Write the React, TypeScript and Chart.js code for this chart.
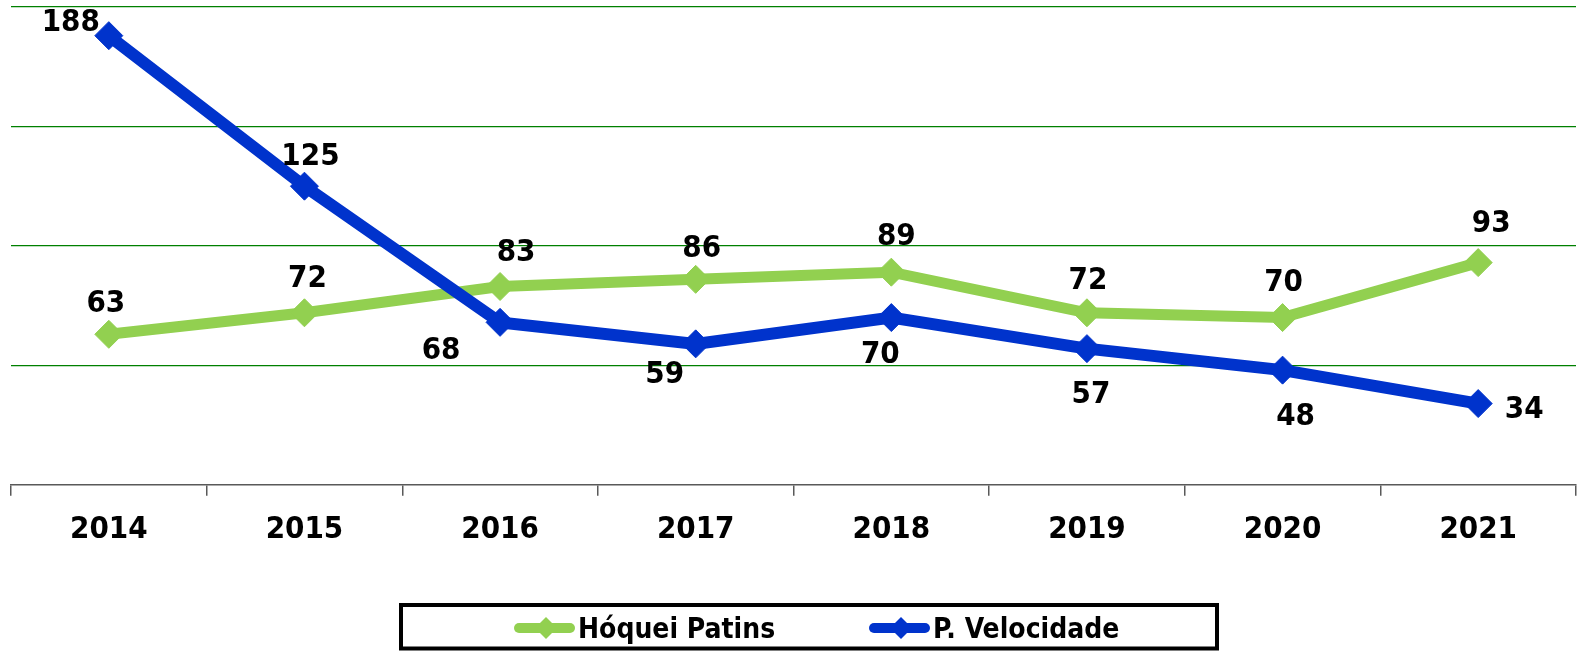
import React, { useEffect, useRef } from "react";
import { Chart, registerables } from "chart.js";

Chart.register(...registerables);

const categories = ["2014", "2015", "2016", "2017", "2018", "2019", "2020", "2021"];
const hoqueiPatins = [63, 72, 83, 86, 89, 72, 70, 93];
const pVelocidade = [188, 125, 68, 59, 70, 57, 48, 34];
const seriesNames = ["Hóquei Patins", "P. Velocidade"];
const yTicks = [0, 50, 100, 150, 200];

// label placement (style only): offset of label centre from its point
const greenLabelOffsets = [[-3, -33], [3, -37], [16, -37], [6, -33], [5, -38], [1, -35], [1, -38], [13, -42]];
const blueLabelOffsets = [[-38, -16], [6, -32], [-59, 26], [-31, 28], [-11, 34], [4, 43], [13, 44], [46, 3]];

const GREEN = "#92D050";
const BLUE = "#0033CC";
const FONT_FAMILY = "'Liberation Sans Narrow', 'DejaVu Sans Condensed', sans-serif";

const labelPlugin = {
  id: "pointLabels",
  afterDatasetsDraw(chart: any) {
    const ctx = chart.ctx;
    ctx.save();
    ctx.font = `bold 31px ${FONT_FAMILY}`;
    ctx.fillStyle = "#000";
    ctx.textAlign = "center";
    ctx.textBaseline = "alphabetic";
    chart.data.datasets.forEach((ds: any, di: number) => {
      const meta = chart.getDatasetMeta(di);
      const offs = di === 0 ? greenLabelOffsets : blueLabelOffsets;
      meta.data.forEach((pt: any, i: number) => {
        const [dx, dy] = offs[i];
        ctx.fillText(String(ds.data[i]), pt.x + dx, pt.y + dy + 11);
      });
    });
    ctx.restore();
  },
};

const legendPlugin = {
  id: "boxLegend",
  afterDraw(chart: any) {
    const ctx = chart.ctx;
    ctx.save();
    ctx.strokeStyle = "#000";
    ctx.lineWidth = 4;
    ctx.strokeRect(401, 605, 816, 43.5);
    const items = [
      { x: 514, color: GREEN, text: seriesNames[0] },
      { x: 869, color: BLUE, text: seriesNames[1] },
    ];
    const cy = 628;
    items.forEach((it) => {
      ctx.strokeStyle = it.color;
      ctx.lineWidth = 10;
      ctx.lineCap = "round";
      ctx.beginPath();
      ctx.moveTo(it.x + 5, cy);
      ctx.lineTo(it.x + 56, cy);
      ctx.stroke();
      ctx.fillStyle = it.color;
      const cx = it.x + 32;
      const r = 11;
      ctx.beginPath();
      ctx.moveTo(cx, cy - r);
      ctx.lineTo(cx + r, cy);
      ctx.lineTo(cx, cy + r);
      ctx.lineTo(cx - r, cy);
      ctx.closePath();
      ctx.fill();
      ctx.fillStyle = "#000";
      ctx.font = `bold 28px ${FONT_FAMILY}`;
      ctx.textAlign = "left";
      ctx.textBaseline = "alphabetic";
      ctx.fillText(it.text, it.x + 64, 638);
    });
    ctx.restore();
  },
};

export default function App() {
  const ref = useRef<HTMLCanvasElement | null>(null);
  useEffect(() => {
    if (!ref.current) return;
    const chart = new Chart(ref.current, {
      type: "line",
      data: {
        labels: categories,
        datasets: [
          {
            label: seriesNames[0],
            data: hoqueiPatins,
            borderColor: GREEN,
            backgroundColor: GREEN,
            borderWidth: 11,
            pointStyle: "rectRot",
            pointRadius: 14,
            pointBorderWidth: 1,
            pointBackgroundColor: GREEN,
            pointBorderColor: GREEN,
            tension: 0,
            order: 1,
          },
          {
            label: seriesNames[1],
            data: pVelocidade,
            borderColor: BLUE,
            backgroundColor: BLUE,
            borderWidth: 12,
            pointStyle: "rectRot",
            pointRadius: 14,
            pointBorderWidth: 1,
            pointBackgroundColor: BLUE,
            pointBorderColor: BLUE,
            tension: 0,
            order: 0,
          },
        ],
      },
      options: {
        animation: false,
        responsive: false,
        maintainAspectRatio: false,
        layout: { autoPadding: false, padding: { left: 11, right: 7, top: 7, bottom: 86 } },
        plugins: {
          legend: { display: false },
          tooltip: { enabled: false },
        },
        scales: {
          x: {
            offset: true,
            grid: {
              offset: true,
              drawOnChartArea: false,
              drawTicks: true,
              tickLength: 11,
              color: "#595959",
              lineWidth: 1.5,
            },
            border: { display: true, color: "#595959", width: 1.5 },
            ticks: {
              color: "#000",
              padding: 16,
              font: { family: FONT_FAMILY, size: 31, weight: "bold" },
            },
          },
          y: {
            min: 0,
            max: 200,
            afterBuildTicks: (scale: any) => {
              scale.ticks = yTicks.map((v) => ({ value: v }));
            },
            ticks: { display: false },
            grid: {
              drawTicks: false,
              color: (c: any) => (c.tick && c.tick.value === 0 ? "rgba(0,0,0,0)" : "#008000"),
              lineWidth: 1.2,
            },
            border: { display: false },
          },
        },
      },
      plugins: [labelPlugin, legendPlugin],
    });
    return () => chart.destroy();
  }, []);
  return (
    <div style={{ position: "fixed", left: 0, top: 0, width: 1583, height: 651, background: "#fff" }}>
      <canvas ref={ref} width={1583} height={651} style={{ display: "block" }} />
    </div>
  );
}
